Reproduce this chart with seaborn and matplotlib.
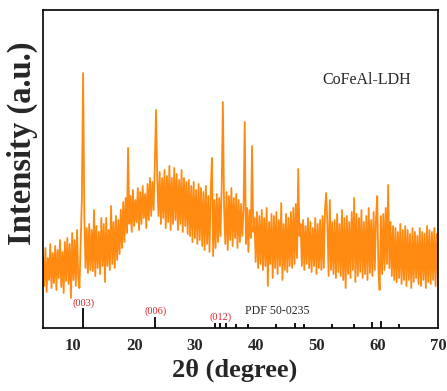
import numpy as np
import matplotlib
matplotlib.use("Agg")
import matplotlib.pyplot as plt
import seaborn as sns

# --- XRD pattern of CoFeAl-LDH (step 0.2 deg, 5-70) ---
two_theta = np.linspace(5, 70, 326)
intensity = [
    72, 42, 80, 36, 70, 48, 84, 40, 75, 45,
    82, 38, 78, 50, 88, 41, 76, 35, 86, 47,
    90, 44, 84, 30, 95, 48, 88, 42, 98, 50,
    40, 84, 130, 255, 112, 60, 100, 55, 104, 58,
    98, 57, 118, 52, 102, 60, 96, 54, 110, 62,
    104, 46, 110, 62, 98, 58, 122, 64, 106, 60,
    112, 68, 108, 74, 118, 80, 126, 86, 130, 95,
    180, 104, 132, 96, 138, 102, 128, 106, 140, 98,
    136, 104, 142, 110, 134, 100, 144, 108, 150, 112,
    146, 118, 164, 218, 150, 112, 156, 104, 150, 110,
    158, 100, 152, 106, 162, 98, 150, 104, 160, 108,
    154, 98, 148, 104, 158, 96, 150, 102, 146, 94,
    148, 92, 142, 86, 146, 90, 138, 84, 144, 88,
    140, 82, 136, 78, 142, 84, 132, 76, 138, 170,
    72, 128, 80, 134, 86, 130, 92, 140, 226, 120,
    84, 136, 78, 132, 88, 140, 82, 130, 90, 134,
    80, 128, 86, 124, 92, 118, 206, 84, 120, 76,
    118, 90, 182, 96, 110, 66, 116, 60, 112, 64,
    118, 58, 110, 62, 120, 42, 106, 64, 114, 50,
    112, 60, 116, 54, 108, 62, 125, 48, 104, 58,
    114, 56, 110, 62, 116, 60, 120, 64, 124, 70,
    159, 92, 104, 62, 108, 58, 102, 64, 110, 60,
    106, 56, 100, 62, 110, 54, 104, 60, 108, 58,
    112, 60, 118, 135, 104, 52, 128, 58, 106, 54,
    108, 50, 114, 56, 104, 52, 118, 48, 110, 40,
    112, 54, 106, 50, 116, 58, 130, 46, 114, 52,
    110, 56, 118, 50, 106, 54, 112, 48, 120, 55,
    108, 52, 116, 58, 110, 132, 56, 38, 112, 54,
    114, 58, 120, 64, 143, 60, 106, 52, 102, 48,
    100, 46, 96, 50, 104, 44, 98, 48, 102, 42,
    98, 48, 94, 40, 100, 46, 96, 50, 92, 44,
    100, 42, 96, 48, 94, 40, 102, 46, 98, 44,
    96, 48, 100, 42, 94, 50,
]

# --- Reference card PDF 50-0235 ---
pdf_pos = [11.6, 23.5, 33.3, 34.1, 35.1, 36.7, 38.8, 43.4, 46.4, 48.0,
           52.6, 56.1, 59.2, 60.7, 63.6]
pdf_height = [20, 11, 5, 5, 5, 4, 4.5, 4.5, 5, 4, 4, 4, 6, 7, 4.5]
hkl_labels = ["(003)", "(006)", "(012)"]
hkl_x = [11.6, 23.5, 34.3]
hkl_y = [25, 16.5, 11]

sns.set_style("white")
plt.rcParams['font.family'] = ['Liberation Serif', 'DejaVu Serif']

fig = plt.figure(figsize=(4.47, 3.91), dpi=100)
ax = fig.add_axes([43 / 447, 1 - 328 / 391, 395 / 447, 318 / 391])

sns.lineplot(x=two_theta, y=intensity, ax=ax, color="#FF8A12", linewidth=1.3)
ax.vlines(pdf_pos, 0, pdf_height, color="black", linewidth=1.3)

for lab, xx, yy in zip(hkl_labels, hkl_x, hkl_y):
    ax.text(xx, yy, lab, color="#D9262E", fontsize=7.5, ha="center", va="center")
ax.text(43.5, 17, "PDF 50-0235", fontsize=8.5, ha="center", va="center")
ax.text(0.82, 0.78, "CoFeAl-LDH", fontsize=11.5, ha="center", va="center",
        transform=ax.transAxes)

ax.set_xlim(5, 70)
ax.set_ylim(0, 318)
ax.set_yticks([])
ax.set_xticks([10, 20, 30, 40, 50, 60, 70])
ax.tick_params(axis="x", length=0, pad=7, labelsize=12)
for t in ax.get_xticklabels():
    t.set_fontweight("bold")

ax.set_xlabel("2θ (degree)", fontsize=19, fontweight="bold")
ax.set_ylabel("Intensity (a.u.)", fontsize=23.5, fontweight="bold")
ax.xaxis.set_label_coords(0.485, -0.095)
ax.yaxis.set_label_coords(-0.012, 0.58)

for s in ax.spines.values():
    s.set_color("black")
    s.set_linewidth(1.2)

fig.savefig("out.png", dpi=100)
